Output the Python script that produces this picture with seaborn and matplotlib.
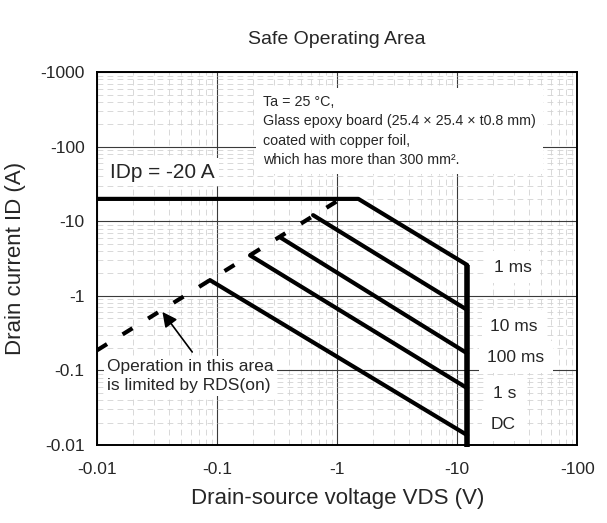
import numpy as np
import pandas as pd
import matplotlib
matplotlib.use('Agg')
import matplotlib.pyplot as plt
import seaborn as sns
from matplotlib.ticker import FuncFormatter, LogLocator, NullFormatter

# SOA curves (magnitudes: VDS in V, ID in A)
x_ticks = [0.01, 0.1, 1, 10, 100]
y_ticks = [0.01, 0.1, 1, 10, 100, 1000]

curve_labels = ['1 ms', '10 ms', '100 ms', '1 s', 'DC']
vds_1ms = [0.01, 1.5, 12.1]
id_1ms = [20, 20, 2.6]
vds_10ms = [0.63, 12.1]
id_10ms = [12.1, 0.65]
vds_100ms = [0.335, 12.1]
id_100ms = [6.1, 0.17]
vds_1s = [0.188, 12.1]
id_1s = [3.5, 0.058]
vds_dc = [0.087, 12.1]
id_dc = [1.63, 0.0136]

# VDSS limit and RDS(on) limit
vds_vdss = [12.1, 12.1]
id_vdss = [2.6, 0.0094]
vds_rds = [0.01, 1.07]
id_rds = [0.187, 20]

curves = pd.concat([
    pd.DataFrame({'vds': v, 'id': i, 'curve': name})
    for name, v, i in zip(curve_labels,
                          [vds_1ms, vds_10ms, vds_100ms, vds_1s, vds_dc],
                          [id_1ms, id_10ms, id_100ms, id_1s, id_dc])
], ignore_index=True)

sns.set_style('white')
plt.rcParams['font.family'] = ['Liberation Sans', 'DejaVu Sans']

fig = plt.figure(figsize=(6.07, 5.23), dpi=100)
ax = fig.add_axes([0.160, 0.149, 0.791, 0.713])
ax.set_xscale('log')
ax.set_yscale('log')

sns.lineplot(data=curves, x='vds', y='id', units='curve', estimator=None,
             sort=False, color='black', linewidth=3, ax=ax, legend=False)
sns.lineplot(x=vds_vdss, y=id_vdss, estimator=None, sort=False, color='black',
             linewidth=4, ax=ax, clip_on=False, solid_capstyle='butt')
sns.lineplot(x=vds_rds, y=id_rds, estimator=None, sort=False, color='black',
             linewidth=3, linestyle=(0, (2.8, 4.4)), dash_capstyle='butt', ax=ax)

ax.set_xlim(0.01, 100)
ax.set_ylim(0.01, 1000)
ax.set_xticks(x_ticks)
ax.set_yticks(y_ticks)
fmt = FuncFormatter(lambda v, pos: f'-{v:g}')
ax.xaxis.set_major_formatter(fmt)
ax.yaxis.set_major_formatter(fmt)
ax.xaxis.set_minor_locator(LogLocator(base=10, subs=np.arange(2, 10)))
ax.yaxis.set_minor_locator(LogLocator(base=10, subs=np.arange(2, 10)))
ax.xaxis.set_minor_formatter(NullFormatter())
ax.yaxis.set_minor_formatter(NullFormatter())
ax.tick_params(which='both', length=0, labelsize=12.5)
ax.tick_params(axis='x', pad=12)
ax.tick_params(axis='y', pad=9)

ax.grid(which='major', color='#3a3a3a', linewidth=0.8, linestyle='-')
ax.grid(which='minor', color='#d2d2d2', linewidth=0.6, linestyle=(0, (7, 5)))
ax.set_axisbelow(True)
for s in ax.spines.values():
    s.set_color('black')
    s.set_linewidth(1.4)

ax.set_title('Safe Operating Area', fontsize=14, pad=20)
ax.set_xlabel('Drain-source voltage VDS (V)', fontsize=16, labelpad=8)
ax.set_ylabel('Drain current ID (A)', fontsize=16, labelpad=10)

box = dict(facecolor='white', edgecolor='none', pad=3)
ax.text(0.027, 0.732, 'IDp = -20 A', transform=ax.transAxes, fontsize=15,
        ha='left', va='center', bbox=box, zorder=3)
ax.text(0.346, 0.94,
        'Ta = 25 \u00b0C,\n'
        'Glass epoxy board (25.4 \u00d7 25.4 \u00d7 t0.8 mm)\n'
        'coated with copper foil,\n'
        'which has more than 300 mm\u00b2.',
        transform=ax.transAxes, fontsize=10.3, ha='left', va='top',
        linespacing=1.5, bbox=dict(facecolor='white', edgecolor='none', pad=5),
        zorder=3)

label_pos = [(0.827, 0.477), (0.819, 0.319), (0.8125, 0.236), (0.825, 0.137), (0.819, 0.054)]
for name, (lx, ly) in zip(curve_labels, label_pos):
    ax.text(lx, ly, name, transform=ax.transAxes, fontsize=12.5, ha='left',
            va='center', bbox=dict(facecolor='white', edgecolor='none', pad=6),
            zorder=3)

ax.text(0.021, 0.185, 'Operation in this area\nis limited by RDS(on)',
        transform=ax.transAxes, fontsize=12.5, ha='left', va='center',
        linespacing=1.35, bbox=dict(facecolor='white', edgecolor='none', pad=2),
        zorder=3)
ax.annotate('', xy=(0.035, 0.61), xytext=(0.062, 0.177),
            arrowprops=dict(arrowstyle='-|>', color='black', lw=1.2,
                            mutation_scale=22, shrinkA=0, shrinkB=0),
            zorder=4)

fig.savefig('out.png', dpi=100)
